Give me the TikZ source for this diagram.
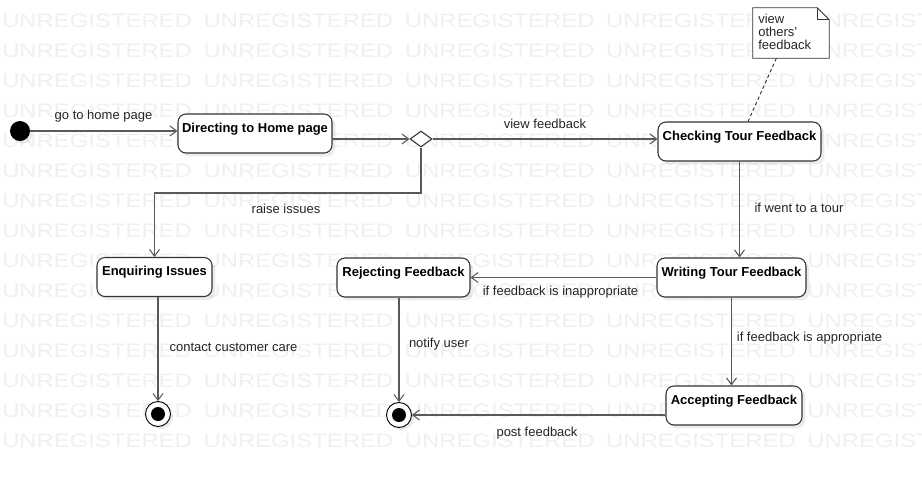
\documentclass[tikz,border=0pt]{standalone}
\usepackage{fontspec}
\setmainfont{Liberation Sans}
\usetikzlibrary{arrows.meta,shapes.geometric,shadows}
\begin{document}
\begin{tikzpicture}[x=0.75pt,y=-0.75pt,
  stbox/.style={draw=black!80, fill=white, rounded corners=6pt, line width=0.8pt,
    font=\fontsize{9.75pt}{12pt}\selectfont\bfseries, text height=12pt, text depth=14.25pt,
    inner ysep=1.5pt, inner xsep=0pt,
    drop shadow={shadow xshift=2.5pt,shadow yshift=-2.5pt,fill=black,opacity=0.08}},
  lab/.style={font=\fontsize{9.75pt}{12pt}\selectfont, text=black!85, inner sep=0pt},
  conn/.style={draw=black!65, line width=0.8pt, -{Straight Barb[length=5pt,width=7.5pt]}},
  finst/.style={circle, draw=black, line width=0.7pt, fill=white, minimum size=18.75pt, inner sep=0pt,
    path picture={\fill[black] (path picture bounding box.center) circle (5.25pt);},
    drop shadow={shadow xshift=2pt,shadow yshift=-2pt,fill=black,opacity=0.08}},
  initst/.style={circle, fill=black, minimum size=15pt, inner sep=0pt,
    drop shadow={shadow xshift=2pt,shadow yshift=-2pt,fill=black,opacity=0.08}},
  wm/.style={anchor=base west, inner sep=0pt, text=black!6, font=\fontsize{14.6pt}{14.6pt}\selectfont},
  notebox/.style={inner sep=0pt, minimum width=57pt, minimum height=37.5pt}
]
\useasboundingbox (0,0) rectangle (922,480);
\fill[white] (0,0) rectangle (922,480);
% watermark
\begin{scope}
\clip (0,0) rectangle (922,480);
\foreach \r in {0,...,14}{
  \foreach \c in {0,...,4}{
    \node[wm] (wm-\r-\c) at ({2+201.3*\c},{27.5+30*\r}) {\scalebox{1.226}[1]{UNREGISTERED}};
  }
}
\end{scope}

% states
\node[initst] (init) at (20,131) {};
\node[stbox, minimum width=115.5pt] (home) at (255,133.5) {Directing to Home page};
\node[diamond, draw=black!80, fill=white, line width=0.8pt, minimum width=16.5pt, minimum height=12pt, inner sep=0pt] (dec) at (421,139) {};
\node[stbox, minimum width=122.25pt] (check) at (739.5,141.5) {Checking Tour Feedback};
\node[stbox, minimum width=111.75pt] (write) at (731.5,277.5) {Writing Tour Feedback};
\node[stbox, minimum width=99.75pt] (reject) at (403.5,277.5) {Rejecting Feedback};
\node[stbox, minimum width=86.25pt] (enq) at (154.5,277) {Enquiring Issues};
\node[stbox, minimum width=102pt] (accept) at (734,405.5) {Accepting Feedback};
\node[finst] (fin1) at (158,414) {};
\node[finst] (fin2) at (399,415) {};

% note
\node[notebox] (note) at (791,33) {};
\draw[draw=black!80, fill=white, line width=0.7pt] (note.north west) -- ([xshift=-9pt]note.north east) -- ([yshift=-9pt]note.north east) -- (note.south east) -- (note.south west) -- cycle;
\draw[draw=black!80, line width=0.7pt] ([xshift=-9pt]note.north east) -- ([xshift=-9pt,yshift=-9pt]note.north east) -- ([yshift=-9pt]note.north east);
\node[lab, anchor=north west, align=left, font=\fontsize{9.75pt}{9.6pt}\selectfont] (notetext) at (758,14) {view\\others'\\feedback};
\draw[draw=black!80, line width=0.7pt, dash pattern=on 2.5pt off 2pt] ([xshift=-11pt]note.south) -- ([xshift=6.4pt]check.north);

% connectors
\draw[conn] (init.east) -- (init.east -| home.west);
\draw[conn] (home.east |- dec.west) -- (dec.west);
\draw[conn] (dec.east) -- (dec.east -| check.west);
\coordinate (r1) at (421,193);
\draw[conn] (dec.south) -- (r1) -| (enq.north);
\draw[conn] (check.south) -- (check.south |- write.north);
\draw[conn] (write.west) -- (write.west -| reject.east);
\draw[conn] (write.south) -- (write.south |- accept.north);
\draw[conn] (enq.south -| fin1.north) -- (fin1.north);
\draw[conn] (reject.south -| fin2.north) -- (fin2.north);
\draw[conn] (accept.west |- fin2.east) -- (fin2.east);

% labels
\node[lab] (l1) at (103.5,116) {go to home page};
\node[lab] (l2) at (545,124) {view feedback};
\node[lab] (l3) at (286,209) {raise issues};
\node[lab] (l4) at (799,208) {if went to a tour};
\node[lab] (l5) at (560.5,292) {if feedback is inappropriate};
\node[lab] (l6) at (809.5,338) {if feedback is appropriate};
\node[lab] (l7) at (233.5,347) {contact customer care};
\node[lab] (l8) at (439,344) {notify user};
\node[lab] (l9) at (537,433) {post feedback};
\end{tikzpicture}
\end{document}
